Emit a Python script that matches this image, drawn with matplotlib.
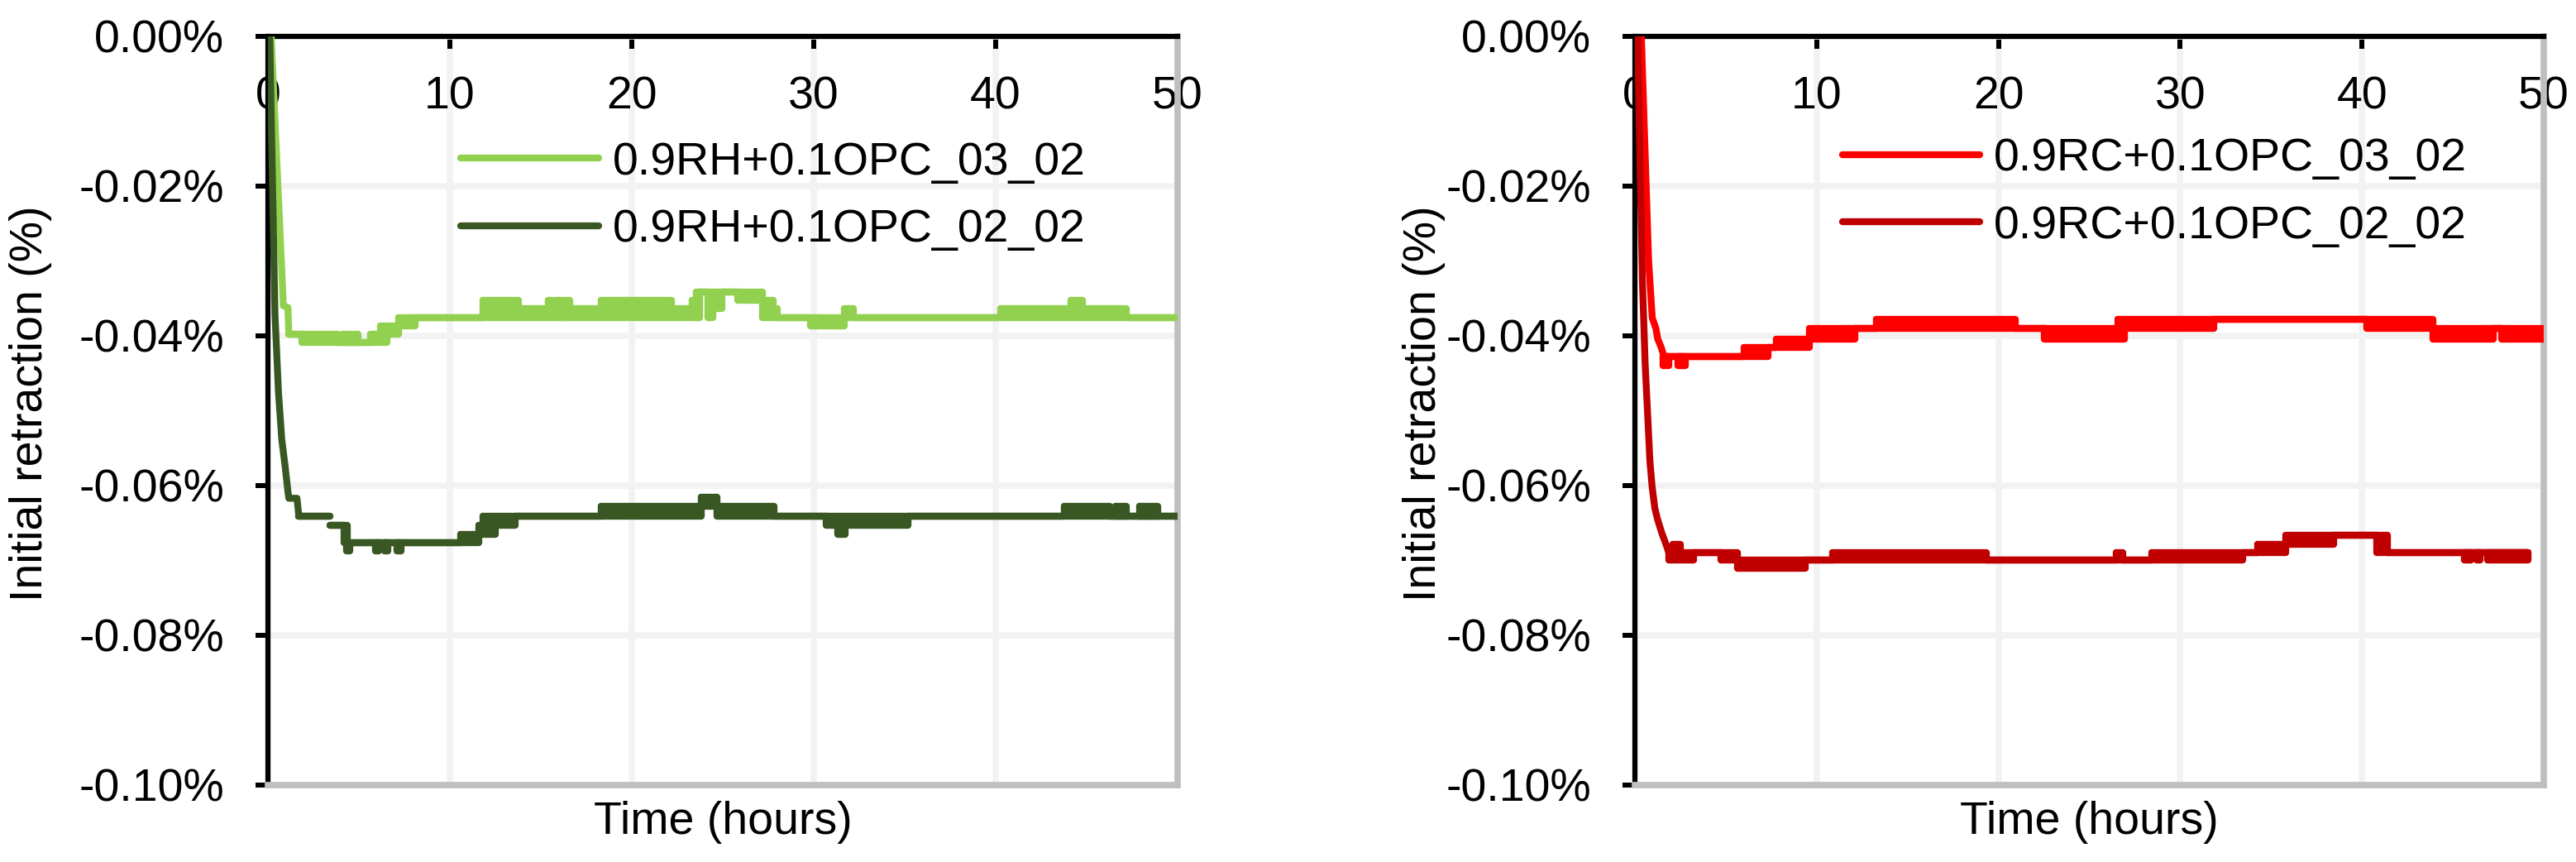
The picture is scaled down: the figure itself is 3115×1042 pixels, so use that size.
import matplotlib
matplotlib.use("Agg")
import matplotlib.pyplot as plt

plt.rcParams['font.family'] = ['Liberation Sans', 'DejaVu Sans']

# axis ticks
x_ticks = [0, 10, 20, 30, 40, 50]
y_ticks = [0.0, -0.02, -0.04, -0.06, -0.08, -0.10]
y_tick_labels = ['0.00%', '-0.02%', '-0.04%', '-0.06%', '-0.08%', '-0.10%']

labels_left = ['0.9RH+0.1OPC_03_02', '0.9RH+0.1OPC_02_02']
labels_right = ['0.9RC+0.1OPC_03_02', '0.9RC+0.1OPC_02_02']
colors_left = ['#92D050', '#385723']
colors_right = ['#FF0000', '#C00000']

# each series: first drop (time h, retraction %), then plateaus
# (start h, end h, upper %, lower %) -- upper != lower where the reading flickers
rh03_drop_t = [0.18, 0.85, 1.1, 1.15]
rh03_drop_v = [0.0, -0.0360, -0.0362, -0.0398]
rh03_steps = [
    (1.15, 1.86, -0.0398, -0.0398), (1.86, 3.83, -0.0398, -0.0409),
    (3.83, 5.65, -0.0409, -0.0409), (4.1, 4.3, -0.0398, -0.0409),
    (4.5, 4.65, -0.0398, -0.0409), (4.8, 4.95, -0.0398, -0.0409),
    (5.65, 6.55, -0.0398, -0.0409), (6.2, 7.17, -0.0387, -0.0398),
    (7.17, 8.08, -0.0376, -0.0387), (8.08, 11.8, -0.0376, -0.0376),
    (11.8, 13.76, -0.0353, -0.0376), (13.76, 18.3, -0.0364, -0.0376),
    (15.4, 15.65, -0.0353, -0.0376), (15.85, 16.15, -0.0353, -0.0376),
    (16.3, 16.6, -0.0353, -0.0376), (18.3, 22.2, -0.0353, -0.0376),
    (22.2, 23.3, -0.0364, -0.0376), (23.3, 23.7, -0.0353, -0.0376),
    (23.55, 23.75, -0.0342, -0.0376), (23.75, 24.2, -0.0342, -0.0342),
    (24.2, 24.45, -0.0342, -0.0376), (24.45, 24.97, -0.0342, -0.0364),
    (24.97, 25.8, -0.0342, -0.0342), (25.8, 27.17, -0.0342, -0.0353),
    (27.17, 27.77, -0.0353, -0.0376), (27.77, 28.0, -0.0364, -0.0376),
    (28.0, 29.8, -0.0376, -0.0376), (29.8, 31.7, -0.0376, -0.0387),
    (31.7, 32.17, -0.0364, -0.0376), (32.17, 40.27, -0.0376, -0.0376),
    (40.27, 47.17, -0.0364, -0.0376), (44.14, 44.8, -0.0353, -0.0364),
    (47.17, 49.9, -0.0376, -0.0376),
]

rh02_drop_t = [0.1, 0.39, 0.58, 0.76, 0.95, 1.1, 1.15, 1.6, 1.7]
rh02_drop_v = [0.0, -0.0372, -0.0475, -0.0538, -0.0575, -0.0608, -0.0617, -0.0617, -0.0641]
rh02_steps = [
    (1.7, 3.4, -0.0641, -0.0641), (3.4, 4.2, -0.0653, -0.0653),
    (4.2, 4.35, -0.0653, -0.0676), (4.35, 10.6, -0.0676, -0.0676),
    (4.3, 4.5, -0.0676, -0.0687), (5.9, 6.1, -0.0676, -0.0687),
    (6.4, 6.6, -0.0676, -0.0687), (7.1, 7.3, -0.0676, -0.0687),
    (10.6, 11.6, -0.0665, -0.0676), (11.6, 12.5, -0.0653, -0.0665),
    (11.8, 13.6, -0.0641, -0.0653), (13.6, 18.3, -0.0641, -0.0641),
    (18.3, 23.8, -0.0628, -0.0641), (23.8, 24.7, -0.0616, -0.0628),
    (24.7, 27.8, -0.0628, -0.0641), (27.8, 30.7, -0.0641, -0.0641),
    (30.7, 35.2, -0.0641, -0.0653), (31.3, 31.75, -0.0653, -0.0665),
    (35.2, 43.76, -0.0641, -0.0641), (43.76, 46.3, -0.0628, -0.0641),
    (46.3, 50.0, -0.0641, -0.0641), (46.6, 47.2, -0.0628, -0.0641),
    (47.9, 48.9, -0.0628, -0.0641),
]

rc03_drop_t = [0.35, 0.75, 0.95, 1.15, 1.25, 1.45, 1.6]
rc03_drop_v = [0.0, -0.0300, -0.0376, -0.0390, -0.0404, -0.0416, -0.0428]
rc03_steps = [
    (1.6, 6.02, -0.0428, -0.0428), (1.55, 1.85, -0.0428, -0.0440),
    (2.38, 2.76, -0.0428, -0.0440), (6.02, 7.3, -0.0416, -0.0428),
    (7.3, 7.76, -0.0416, -0.0416), (7.76, 9.58, -0.0404, -0.0416),
    (9.58, 12.1, -0.0390, -0.0404), (12.1, 13.3, -0.0390, -0.0390),
    (13.3, 20.94, -0.0378, -0.0390), (20.94, 22.53, -0.0390, -0.0390),
    (22.53, 26.55, -0.0390, -0.0404), (26.55, 26.92, -0.0378, -0.0404),
    (26.92, 31.85, -0.0378, -0.0390), (31.85, 40.26, -0.0378, -0.0378),
    (40.26, 43.9, -0.0378, -0.0390), (43.9, 47.2, -0.0390, -0.0404),
    (47.2, 47.68, -0.0390, -0.0390), (47.68, 50.0, -0.0390, -0.0404),
]

rc02_drop_t = [0.14, 0.41, 0.56, 0.71, 0.82, 0.94, 1.09, 1.24, 1.47, 1.7, 1.85]
rc02_drop_v = [0.0, -0.0328, -0.0438, -0.0512, -0.0567, -0.0601, -0.0630, -0.0645,
               -0.0663, -0.0678, -0.0689]
rc02_steps = [
    (1.85, 3.21, -0.0689, -0.0700), (2.07, 2.5, -0.0678, -0.0689),
    (3.21, 4.73, -0.0689, -0.0689), (4.73, 5.64, -0.0689, -0.0700),
    (5.64, 9.35, -0.0700, -0.0711), (9.35, 10.86, -0.0700, -0.0700),
    (10.86, 19.35, -0.0689, -0.0700), (19.35, 26.47, -0.0700, -0.0700),
    (26.47, 26.85, -0.0689, -0.0700), (26.85, 28.44, -0.0700, -0.0700),
    (28.44, 33.44, -0.0689, -0.0700), (33.44, 34.27, -0.0689, -0.0689),
    (34.27, 35.79, -0.0678, -0.0689), (35.79, 38.44, -0.0666, -0.0678),
    (38.44, 40.79, -0.0666, -0.0666), (40.79, 41.4, -0.0666, -0.0689),
    (41.4, 49.12, -0.0689, -0.0689), (45.64, 46.0, -0.0689, -0.0700),
    (46.3, 46.5, -0.0689, -0.0700), (46.9, 49.12, -0.0689, -0.0700),
]

LW = 6.0
FS = 40


def draw_series(ax, drop_t, drop_v, steps, color, label):
    line, = ax.plot(drop_t, drop_v, color=color, lw=LW, solid_capstyle='round',
                    solid_joinstyle='round', zorder=3, label=label)
    for t0, t1, hi, lo in steps:
        ax.plot([t0, t1, t1, t0, t0], [hi, hi, lo, lo, hi], color=color, lw=LW,
                solid_capstyle='round', solid_joinstyle='round', zorder=3)
        if hi != lo:
            ax.fill_between([t0, t1], hi, lo, color=color, lw=0, zorder=3)
    return line


def style_axes(ax, ylabel_x):
    ax.set_xlim(0, 50)
    ax.set_ylim(-0.10, 0.0)
    ax.set_xticks(x_ticks)
    ax.set_xticklabels([str(t) for t in x_ticks])
    ax.set_yticks(y_ticks)
    ax.set_yticklabels(y_tick_labels)
    # x axis sits at y = 0 (top), grey frame line at the bottom
    ax.spines['bottom'].set_position(('data', 0.0))
    ax.spines['bottom'].set_color('black')
    ax.spines['bottom'].set_linewidth(4.5)
    ax.spines['left'].set_color('black')
    ax.spines['left'].set_linewidth(4.5)
    ax.spines['top'].set_position(('data', -0.10))
    ax.spines['top'].set_color('#BFBFBF')
    ax.spines['top'].set_linewidth(5.5)
    ax.spines['right'].set_color('#BFBFBF')
    ax.spines['right'].set_linewidth(5.5)
    ax.tick_params(axis='x', direction='out', length=11, width=4.3, labelsize=FS,
                   pad=23, top=False, bottom=True)
    ax.tick_params(axis='y', direction='out', length=11, width=4.3, labelsize=FS,
                   pad=27, right=False, left=True)
    ax.grid(True, color='#F2F2F2', lw=5.5)
    ax.set_axisbelow(True)
    ax.set_ylabel('Initial retraction (%)', fontsize=FS)
    ax.yaxis.set_label_coords(ylabel_x, 0.51)
    ax.set_xlabel('Time (hours)', fontsize=FS)
    ax.xaxis.set_label_coords(0.5, -0.021)


fig = plt.figure(figsize=(31.15, 10.42), dpi=100)
ax1 = fig.add_axes([0.1040, 0.0893, 0.3531, 0.8685])
ax2 = fig.add_axes([0.6347, 0.0893, 0.3528, 0.8685])

h1 = draw_series(ax1, rh03_drop_t, rh03_drop_v, rh03_steps, colors_left[0], labels_left[0])
h2 = draw_series(ax1, rh02_drop_t, rh02_drop_v, rh02_steps, colors_left[1], labels_left[1])
h3 = draw_series(ax2, rc03_drop_t, rc03_drop_v, rc03_steps, colors_right[0], labels_right[0])
h4 = draw_series(ax2, rc02_drop_t, rc02_drop_v, rc02_steps, colors_right[1], labels_right[1])

style_axes(ax1, -0.237)
style_axes(ax2, -0.2086)

leg_kw = dict(loc='upper left', frameon=False, borderpad=0, borderaxespad=0,
              handlelength=3.0, handletextpad=0.3, labelspacing=0.53, fontsize=FS)
ax1.legend(handles=[h1, h2], bbox_to_anchor=(0.212, 0.860), **leg_kw)
ax2.legend(handles=[h3, h4], bbox_to_anchor=(0.228, 0.865), **leg_kw)

fig.savefig('out.png', dpi=100)
